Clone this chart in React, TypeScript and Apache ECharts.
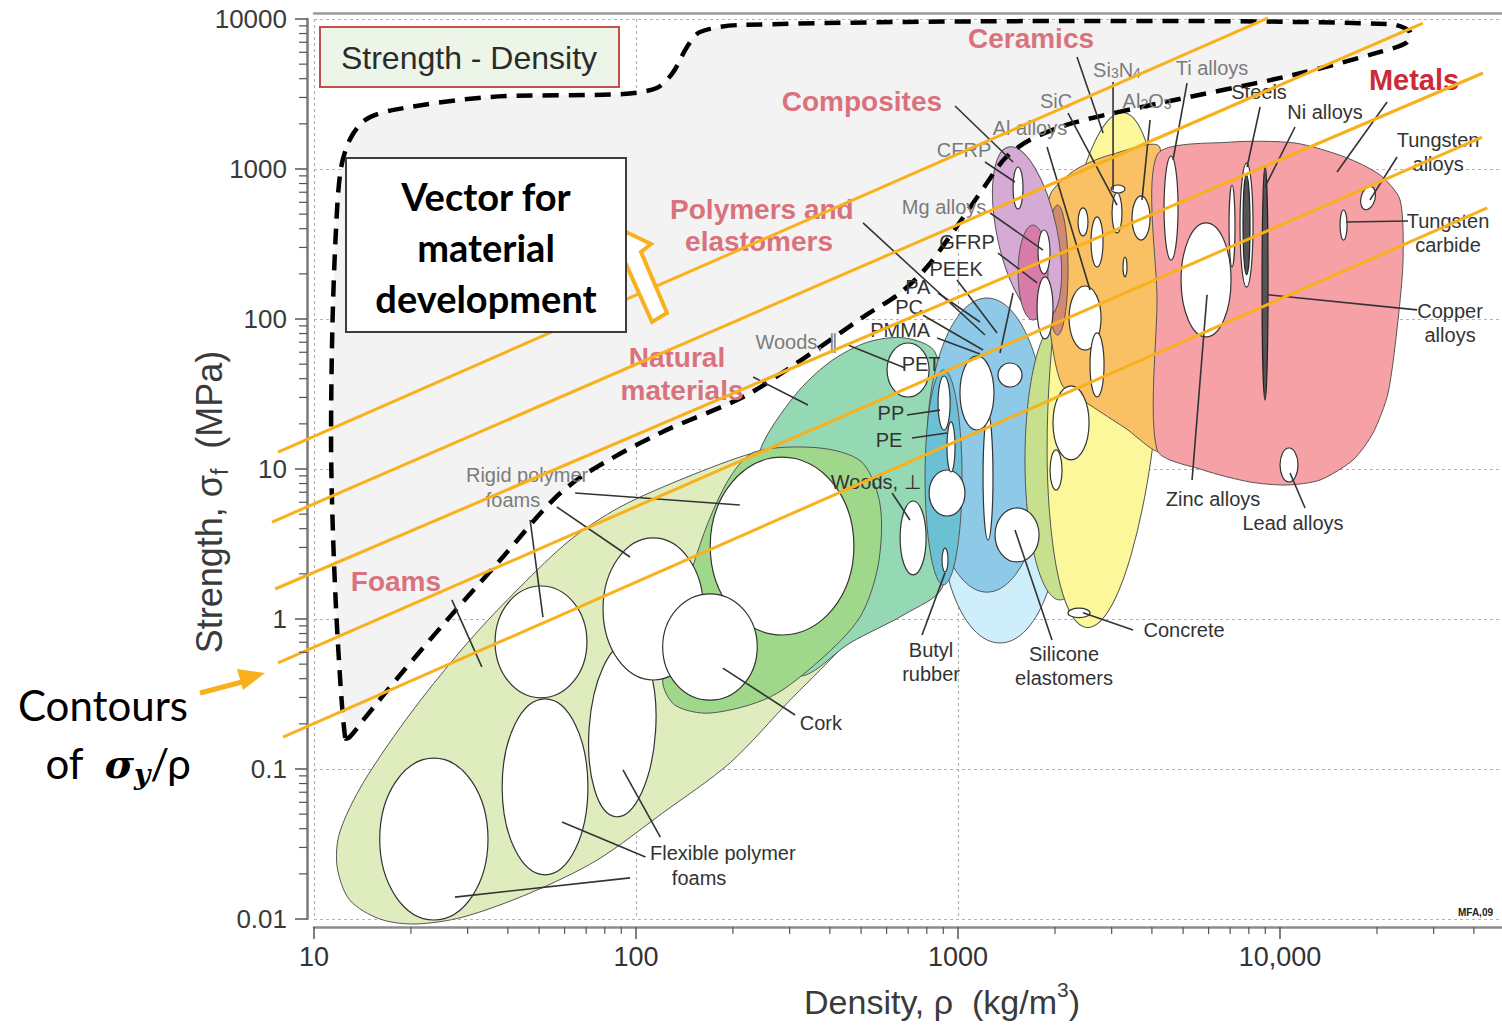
import React, { useEffect, useRef } from 'react';
import * as echarts from 'echarts';

const SANS = "'Liberation Sans', Arial, 'DejaVu Sans', sans-serif";
const NARROW = "'Liberation Sans Narrow', 'Liberation Sans', Arial, sans-serif";
const HUMANIST = "Lato, 'Open Sans', 'Noto Sans', sans-serif";
const ORANGE = '#f8b01d';

// ---------- axes ----------
const densityMin = 10;
const densityMax = 48900;
const strengthMin = 0.01;
const strengthMax = 10000;
const xTickValues = [10, 100, 1000, 10000];
const xTickLabels = ['10', '100', '1000', '10,000'];
const yTickValues = [0.01, 0.1, 1, 10, 100, 1000, 10000];
const yTickLabels = ['0.01', '0.1', '1', '10', '100', '1000', '10000'];
const minorMultipliers = [2, 3, 4, 5, 6, 7, 8, 9];

// ---------- envelopes (density kg/m3, strength MPa) ----------
const potentialRegion = [[12.5,0.161],[11.9,0.621],[11.5,2.88],[11.3,13.4],[11.4,84.5],[11.7,392],[12.1,985],[12.9,1560],[14.4,2120],[17.5,2470],[35.2,3020],[91.1,3160],[116,3470],[130,4370],[144,6510],[158,8190],[210,9120],[2280,9700],[21960,9260],[25330,8190],[24620,6920],[20450,6030],[10970,4230],[4240,2750],[2280,2030],[1670,1560],[1400,1180],[1230,806],[1014,443],[801,222],[661,149],[507,103],[316,50.9],[215,30.2],[119,17.4],[70.4,9.40],[55.2,6.21],[38.6,2.59],[25.9,0.985],[18.5,0.423],[14.4,0.219],[12.9,0.163]];
const foamsEnvelope = [[11.8,0.0222],[12.9,0.0134],[16.0,0.0100],[20.6,0.00926],[29.0,0.0103],[46.9,0.0149],[75.7,0.0247],[121,0.0509],[196,0.110],[301,0.288],[400,0.533],[514,0.985],[573,2.47],[565,5.33],[496,9.85],[373,13.4],[294,13.8],[231,12.8],[144,8.84],[89.2,5.58],[62.4,3.36],[43.6,1.63],[30.5,0.724],[20.3,0.247],[14.2,0.0806],[12.0,0.0374]];
const naturalEnvelope = [[400,51.7],[525,70.2],[685,74.7],[848,60.3],[918,21.2],[931,4.57],[892,1.61],[685,1.08],[462,0.692],[323,0.417],[243,0.724],[213,3.36],[243,13.4],[312,31.1]];
const corkEnvelope = [[234,13.0],[373,13.8],[503,11.1],[573,5.75],[565,2.29],[496,1.03],[373,0.533],[261,0.302],[170,0.236],[132,0.267],[121,0.392],[137,1.15],[164,3.92],[196,8.84]];
const technicalCeramicsEnvelope = [[1931,671],[2309,985],[2965,1240],[4240,1380],[4240,13.4],[3301,18.8],[2570,26.7],[2104,36.3],[1931,84.5],[1863,247]];
const metalsEnvelope = [[4150,1240],[6990,1510],[11130,1490],[15920,1200],[20450,912],[23590,622],[24100,247],[23250,98.5],[21650,32.1],[19450,17.4],[16860,11.5],[13320,8.45],[10510,7.82],[8070,8.19],[5770,9.85],[4150,13.4],[4150,134]];

// ellipse envelopes: [rhoLo, rhoHi, sigmaLo, sigmaHi, tiltDeg]
const elastomersEllipse = [[879, 2074, 0.692, 39.2, 0]];
const polymersEllipse = [[801, 1890, 1.51, 138, 0]];
const rubbersEllipse = [[790, 1029, 1.69, 45.7, 0]];
const concreteStoneEllipse = [[1614, 2665, 1.34, 98.5, 0]];
const ceramicsEllipse = [[1931, 4240, 0.871, 2400, -4]];
const brownEllipse = [[1890, 2196, 78.2, 575, 0]];
const compositesEllipse = [[1322, 2030, 97, 1445, 12]];
const magentaEllipse = [[1536, 1903, 98.5, 423, 0]];

// individual materials (white bubbles)
const materialBubbles = [
  [16.0, 34.7, 0.00985, 0.118, 0],
  [38.4, 70.9, 0.0197, 0.293, 0],
  [71.5, 115, 0.0479, 0.692, -4],
  [36.5, 70.4, 0.298, 1.66, 0],
  [79.0, 162, 0.392, 3.47, 0],
  [170, 475, 0.782, 12.0, 0],
  [121, 238, 0.288, 1.47, 0],
  [602, 813, 30.2, 69.2, 0],
  [661, 796, 1.97, 6.12, 0],
  [813, 1051, 4.86, 9.85, 0],
  [1303, 1785, 2.40, 5.50, 0],
  [1196, 1284, 3.36, 23.3, 0],
  [1014, 1293, 18.2, 56.7, 0],
  [1331, 1580, 35.2, 50.9, 0],
  [867, 945, 18.2, 41.7, 0],
  [924, 979, 9.55, 20.6, 0],
  [892, 931, 2.06, 2.97, 0],
  [1772, 1931, 200, 392, 0],
  [1760, 1972, 73.6, 191, 0],
  [2212, 2781, 62.1, 166, 0],
  [1972, 2552, 11.5, 35.8, 0],
  [1931, 2104, 7.24, 13.4, 0],
  [2570, 2841, 30.2, 80.7, 0],
  [2987, 3301, 692, 782, 0],
  [3008, 3230, 375, 692, 0],
  [3471, 3948, 336, 661, 0],
  [2359, 2533, 358, 550, 0],
  [2588, 2821, 222, 479, 0],
  [3254, 3348, 191, 259, 0],
  [4363, 4823, 247, 1221, 0],
  [4928, 7044, 75.9, 437, 0],
  [7512, 8245, 163, 1096, 0],
  [6945, 7247, 222, 782, 0],
  [17850, 19730, 533, 770, -15],
  [15360, 16150, 336, 533, 0],
  [10000, 11370, 8.19, 13.8, 0],
  [2196, 2570, 1.02, 1.18, 0],
  [1482, 1592, 541, 1031, 0],
];
const darkBubbles = [
  [7675, 8067, 197, 912, 0],
  [8794, 9178, 28.8, 1047, 0],
];

// leader lines [rho1, sigma1, rho2, sigma2]
const leaderLines = [
  [979,2630,1482,1113],[1213,1113,1503,819],[1258,509,1837,288],[1331,275,1760,174],
  [993,182,1322,80.7],[867,149,1170,95.5],[779,106,1196,62.1],[861,74.7,1170,58.4],
  [455,67.1,685,47.1],[507,437,1213,78.2],[694,22.9,879,24.7],[720,16.1,924,17.4],
  [624,6.92,709,4.57],[1482,149,1350,59.3],[231,41.0,342,26.7],[64.7,6.92,210,5.75],
  [56.8,5.58,95.8,2.59],[46.9,4.57,51.4,1.03],[26.8,1.34,33.2,0.479],[186,0.471,312,0.229],
  [91.1,0.0985,119,0.0352],[58.9,0.0443,107,0.0259],[27.4,0.0140,95.8,0.0188],[911,2.03,773,0.782],
  [1503,3.92,1958,0.724],[2444,1.10,3496,0.845],[5933,145,5331,8.45],[10740,9.40,11960,5.50],
  [9178,145,26640,115],[16030,443,24970,450],[23090,1202,19030,622],[21500,2800,15030,955],
  [11130,1905,8983,759],[8670,2590,7900,1031],[5143,3740,4652,1148],[3948,2122,3727,622],
  [3030,3800,3030,724],[2342,5580,2821,1738],[1890,1402,2570,156],[2196,2362,3117,575],
];

// contours of sigma/rho: [rho1, sigma1, rho2, sigma2]
const contourLines = [
  [7.73, 12.98, 9180, 10160],
  [7.41, 4.43, 27800, 9400],
  [7.57, 1.585, 42700, 4365],
  [7.73, 0.509, 42400, 1634],
  [8.01, 0.163, 44000, 550],
];

// labels
const familyLabels = [
  { text: 'Ceramics', rho: 1685, sigma: 7470 },
  { text: 'Composites', rho: 503, sigma: 2800 },
  { text: 'Polymers and', rho: 246, sigma: 541 },
  { text: 'elastomers', rho: 241, sigma: 331 },
  { text: 'Natural', rho: 134, sigma: 55.0 },
  { text: 'materials', rho: 139, sigma: 33.6 },
  { text: 'Foams', rho: 17.97, sigma: 1.765 },
];
const metalsLabel = [{ text: 'Metals', rho: 26070, sigma: 3920 }];
const greyLabels = [
  { text: '{a|Si}{s|3}{a|N}{s|4}', rho: 3117, sigma: 4713 },
  { text: 'Ti alloys', rho: 6149, sigma: 4713 },
  { text: 'SiC', rho: 2015, sigma: 2841 },
  { text: '{a|Al}{s|2}{a|O}{s|3}', rho: 3864, sigma: 2929 },
  { text: 'Al alloys', rho: 1673, sigma: 1877 },
  { text: 'CFRP', rho: 1044, sigma: 1338 },
  { text: 'Mg alloys', rho: 905, sigma: 558 },
  { text: 'Woods, ∥', rho: 316, sigma: 70.2 },
  { text: 'Rigid polymer', rho: 45.9, sigma: 9.12 },
  { text: 'foams', rho: 41.5, sigma: 6.21 },
];
const darkLabels = [
  { text: 'GFRP', rho: 1067, sigma: 326 },
  { text: 'PEEK', rho: 986, sigma: 215 },
  { text: 'PA', rho: 750, sigma: 163 },
  { text: 'PC', rho: 705, sigma: 120 },
  { text: 'PMMA', rho: 661, sigma: 84.5 },
  { text: 'PET', rho: 768, sigma: 50.1 },
  { text: 'PP', rho: 619, sigma: 23.6 },
  { text: 'PE', rho: 611, sigma: 15.6 },
  { text: 'Woods, ⊥', rho: 556, sigma: 8.19 },
  { text: 'Steels', rho: 8608, sigma: 3261 },
  { text: 'Ni alloys', rho: 13800, sigma: 2399 },
  { text: 'Tungsten\nalloys', rho: 30960, sigma: 1298 },
  { text: 'Tungsten\ncarbide', rho: 33240, sigma: 374.5 },
  { text: 'Copper\nalloys', rho: 33730, sigma: 94.0 },
  { text: 'Zinc alloys', rho: 6193, sigma: 6.31 },
  { text: 'Lead alloys', rho: 10970, sigma: 4.365 },
  { text: 'Concrete', rho: 5033, sigma: 0.845 },
  { text: 'Silicone\nelastomers', rho: 2134, sigma: 0.486 },
  { text: 'Butyl\nrubber', rho: 824.5, sigma: 0.517 },
  { text: 'Cork', rho: 375, sigma: 0.203 },
  { text: 'Flexible polymer', rho: 186, sigma: 0.0275 },
  { text: 'foams', rho: 157, sigma: 0.0188 },
];

// ---------- helpers ----------
function pickLabel(values: number[], labels: string[]) {
  return (v: number) => {
    const i = values.findIndex((t) => Math.abs(t - v) / t < 1e-6);
    return i >= 0 ? labels[i] : '';
  };
}

function polygonLayer(id: string, pts: number[][], style: any, smooth = 0.3) {
  return {
    type: 'custom', id, silent: true, clip: false,
    data: pts, encode: { x: 0, y: 1 },
    renderItem: (params: any, api: any) => {
      if (params.dataIndex !== 0) return null;
      const points = pts.map((p) => api.coord(p));
      return { type: 'polygon', shape: { points, smooth }, style };
    },
  };
}

function ellipseLayer(id: string, list: number[][], style: any) {
  return {
    type: 'custom', id, silent: true, clip: false,
    data: list, encode: { x: [0, 1], y: [2, 3] },
    renderItem: (params: any, api: any) => {
      const a = api.coord([api.value(0), api.value(2)]);
      const b = api.coord([api.value(1), api.value(3)]);
      const cx = (a[0] + b[0]) / 2;
      const cy = (a[1] + b[1]) / 2;
      return {
        type: 'ellipse', x: cx, y: cy,
        rotation: (api.value(4) * Math.PI) / 180,
        shape: { cx: 0, cy: 0, rx: Math.abs(b[0] - a[0]) / 2, ry: Math.abs(a[1] - b[1]) / 2 },
        style,
      };
    },
  };
}

function lineLayer(id: string, list: number[][], style: any) {
  return {
    type: 'custom', id, silent: true, clip: false,
    data: list, encode: { x: [0, 2], y: [1, 3] },
    renderItem: (params: any, api: any) => {
      const a = api.coord([api.value(0), api.value(1)]);
      const b = api.coord([api.value(2), api.value(3)]);
      return { type: 'line', shape: { x1: a[0], y1: a[1], x2: b[0], y2: b[1] }, style };
    },
  };
}

function labelLayer(id: string, list: { text: string; rho: number; sigma: number }[], style: any) {
  return {
    type: 'custom', id, silent: true, clip: false,
    data: list.map((l) => [l.rho, l.sigma]), encode: { x: 0, y: 1 },
    renderItem: (params: any, api: any) => {
      const p = api.coord([api.value(0), api.value(1)]);
      const l = list[params.dataIndex];
      return {
        type: 'text', x: p[0], y: p[1],
        style: { text: l.text, align: 'center', verticalAlign: 'middle', ...style },
      };
    },
  };
}

function minorTickLayer(id: string, values: number[], dir: 'x' | 'y') {
  const data = values.map((v) => (dir === 'x' ? [v, strengthMin] : [densityMin, v]));
  return {
    type: 'custom', id, silent: true, clip: false,
    data, encode: { x: 0, y: 1 },
    renderItem: (params: any, api: any) => {
      const p = api.coord([api.value(0), api.value(1)]);
      const shape = dir === 'x'
        ? { x1: p[0], y1: p[1] + 8, x2: p[0], y2: p[1] + 15 }
        : { x1: p[0] - 7, y1: p[1], x2: p[0] - 15, y2: p[1] };
      return { type: 'line', shape, style: { stroke: '#555', lineWidth: 1.2 } };
    },
  };
}

function buildOption() {
  const edge = { stroke: '#555', lineWidth: 1 };
  const white = { fill: '#ffffff', stroke: '#333', lineWidth: 1.2 };
  const xMinor = xTickValues.flatMap((d) => minorMultipliers.map((m) => d * m)).filter((v) => v < densityMax);
  const yMinor = yTickValues.slice(0, -1).flatMap((d) => minorMultipliers.map((m) => d * m));
  const subRich = {
    a: { fontSize: 20, fontFamily: SANS, fill: '#7b7b7b', color: '#7b7b7b', lineHeight: 24, verticalAlign: 'bottom' },
    s: { fontSize: 14, fontFamily: SANS, fill: '#7b7b7b', color: '#7b7b7b', lineHeight: 14, verticalAlign: 'bottom' },
  };

  const series: any[] = [
    polygonLayer('potential-fill', potentialRegion, { fill: '#f3f3f3' }, 0.3),
    polygonLayer('foams', foamsEnvelope, { fill: '#dfedbe', ...edge }),
    polygonLayer('natural', naturalEnvelope, { fill: '#94d8b4', ...edge }),
    polygonLayer('cork', corkEnvelope, { fill: '#a0d88b', ...edge }),
    ellipseLayer('elastomers', elastomersEllipse, { fill: '#cfeefb', ...edge }),
    ellipseLayer('polymers', polymersEllipse, { fill: '#8ecae8', ...edge }),
    ellipseLayer('rubbers', rubbersEllipse, { fill: '#6cc0d3', ...edge }),
    ellipseLayer('concrete-stone', concreteStoneEllipse, { fill: '#c6e08d', ...edge }),
    ellipseLayer('ceramics', ceramicsEllipse, { fill: '#fdf79b', ...edge }),
    polygonLayer('technical-ceramics', technicalCeramicsEnvelope, { fill: '#f9c163', ...edge }, 0.25),
    ellipseLayer('brown', brownEllipse, { fill: '#d18a6f', ...edge }),
    ellipseLayer('composites', compositesEllipse, { fill: '#d5abd5', ...edge }),
    ellipseLayer('magenta', magentaEllipse, { fill: '#d77ba9', ...edge }),
    polygonLayer('metals', metalsEnvelope, { fill: '#f5a1a6', ...edge }, 0.25),
    polygonLayer('potential-outline', potentialRegion, { fill: 'none', stroke: '#000', lineWidth: 4.5, lineDash: [16, 10] }, 0.3),
    ellipseLayer('bubbles', materialBubbles, white),
    ellipseLayer('dark-bubbles', darkBubbles, { fill: '#555', stroke: '#222', lineWidth: 1.2 }),
    lineLayer('leaders', leaderLines, { stroke: '#333', lineWidth: 1.6 }),
    labelLayer('family-labels', familyLabels, { fill: '#d9727d', fontSize: 28, fontWeight: 'bold', fontFamily: SANS }),
    labelLayer('metals-label', metalsLabel, { fill: '#cc2a36', fontSize: 29, fontWeight: 'bold', fontFamily: SANS }),
    labelLayer('grey-labels', greyLabels, { fill: '#7b7b7b', fontSize: 20, fontFamily: SANS, lineHeight: 24, rich: subRich }),
    labelLayer('dark-labels', darkLabels, { fill: '#333', fontSize: 20, fontFamily: SANS, lineHeight: 24 }),
    lineLayer('contours', contourLines, { stroke: ORANGE, lineWidth: 3 }),
    minorTickLayer('x-minor', xMinor, 'x'),
    minorTickLayer('y-minor', yMinor, 'y'),
  ];

  return {
    animation: false,
    backgroundColor: '#ffffff',
    grid: { left: 314, right: 0, top: 19, bottom: 107, containLabel: false },
    xAxis: [
      {
        type: 'log', logBase: 10, min: densityMin, max: densityMax, position: 'bottom', offset: 8,
        axisLine: { show: true, onZero: false, lineStyle: { color: '#8c8c8c', width: 2.5 } },
        axisTick: { show: true, length: 12, customValues: xTickValues, lineStyle: { color: '#555', width: 1.5 } },
        axisLabel: { customValues: xTickValues, formatter: pickLabel(xTickValues, xTickLabels), fontSize: 27, fontFamily: NARROW, color: '#333', margin: 16 },
        splitLine: { show: true, showMaxLine: false, lineStyle: { color: '#b4b4b4', type: [3, 3], width: 1.2 } },
        name: '{a|Density, ρ  (kg/m}{s|3}{a|)}', nameLocation: 'middle', nameGap: 52,
        nameTextStyle: {
          padding: [0, 0, 0, 68],
          rich: {
            a: { fontSize: 34, fontFamily: NARROW, color: '#3a3a3a', lineHeight: 40, verticalAlign: 'bottom' },
            s: { fontSize: 21, fontFamily: NARROW, color: '#3a3a3a', lineHeight: 40, verticalAlign: 'top' },
          },
        },
      },
      {
        type: 'log', logBase: 10, min: densityMin, max: densityMax, position: 'top', offset: 6,
        axisLine: { show: true, onZero: false, lineStyle: { color: '#9a9a9a', width: 2.5 } },
        axisTick: { show: false }, axisLabel: { show: false }, splitLine: { show: false },
      },
    ],
    yAxis: [
      {
        type: 'log', logBase: 10, min: strengthMin, max: strengthMax, position: 'left', offset: 7,
        axisLine: { show: true, onZero: false, lineStyle: { color: '#7a7a7a', width: 2.5 } },
        axisTick: { show: true, length: 12, lineStyle: { color: '#555', width: 1.5 } },
        axisLabel: { formatter: pickLabel(yTickValues, yTickLabels), fontSize: 26, fontFamily: SANS, color: '#3a3a3a', margin: 20 },
        splitLine: { show: true, lineStyle: { color: '#b4b4b4', type: [3, 3], width: 1.2 } },
        name: '{a|Strength, σ}{s|f}{a|  (MPa)}', nameLocation: 'middle', nameGap: 76,
        nameMoveOverlap: false,
        nameTextStyle: {
          padding: [0, 66, 0, 0],
          rich: {
            a: { fontSize: 36, fontFamily: SANS, color: '#3a3a3a', lineHeight: 40, verticalAlign: 'top' },
            s: { fontSize: 23, fontFamily: SANS, color: '#3a3a3a', lineHeight: 40, verticalAlign: 'bottom' },
          },
        },
      },
    ],
    series,
    graphic: {
      elements: [
        { type: 'rect', z: 100, shape: { x: 320, y: 27, width: 299, height: 60 }, style: { fill: '#edf5e8', stroke: '#c0504d', lineWidth: 2 } },
        { type: 'text', z: 101, x: 469, y: 58, style: { text: 'Strength - Density', font: `32px ${SANS}`, fill: '#2b2b2b', align: 'center', verticalAlign: 'middle' } },
        { type: 'polygon', z: 100, shape: { points: [[626, 232], [651, 244], [641, 252], [667, 313], [652, 322], [625, 262], [612, 262]] }, style: { fill: '#fff', stroke: ORANGE, lineWidth: 4 } },
        { type: 'rect', z: 102, shape: { x: 346, y: 158, width: 280, height: 174 }, style: { fill: '#fff', stroke: '#3c3c3c', lineWidth: 2 } },
        { type: 'text', z: 103, x: 486, y: 247, style: { text: 'Vector for\nmaterial\ndevelopment', font: `bold 38px ${HUMANIST}`, lineHeight: 51, fill: '#000', align: 'center', verticalAlign: 'middle' } },
        { type: 'text', z: 100, x: 103, y: 705, style: { text: 'Contours', font: `42px ${HUMANIST}`, fill: '#000', align: 'center', verticalAlign: 'middle' } },
        {
          type: 'text', z: 100, x: 118, y: 763,
          style: {
            text: '{a|of  }{s|σ}{y|y}{a|/ρ}', align: 'center', verticalAlign: 'middle',
            rich: {
              a: { fontSize: 42, fontFamily: HUMANIST, fill: '#000', lineHeight: 50, verticalAlign: 'middle' },
              s: { fontSize: 40, fontFamily: "'DejaVu Serif', serif", fontStyle: 'italic', fontWeight: 'bold', fill: '#000', lineHeight: 50, verticalAlign: 'middle' },
              y: { fontSize: 28, fontFamily: "'DejaVu Serif', serif", fontStyle: 'italic', fontWeight: 'bold', fill: '#000', lineHeight: 30, verticalAlign: 'bottom' },
            },
          },
        },
        { type: 'polyline', z: 100, shape: { points: [[200, 693], [242, 682]] }, style: { stroke: ORANGE, lineWidth: 5, fill: 'none' } },
        { type: 'polygon', z: 100, shape: { points: [[265, 673], [237, 669], [243, 690]] }, style: { fill: ORANGE } },
        { type: 'text', z: 100, x: 1458, y: 912, style: { text: 'MFA,09', font: `bold 10px ${SANS}`, fill: '#222', verticalAlign: 'middle' } },
      ],
    },
  };
}

export default function App() {
  const ref = useRef<HTMLDivElement>(null);
  useEffect(() => {
    if (!ref.current) return;
    const chart = echarts.init(ref.current, null, { renderer: 'svg' });
    chart.setOption(buildOption() as any);
    return () => chart.dispose();
  }, []);
  return (
    <div
      ref={ref}
      style={{ position: 'absolute', left: 0, top: 0, width: 1502, height: 1026, background: '#fff' }}
    />
  );
}
